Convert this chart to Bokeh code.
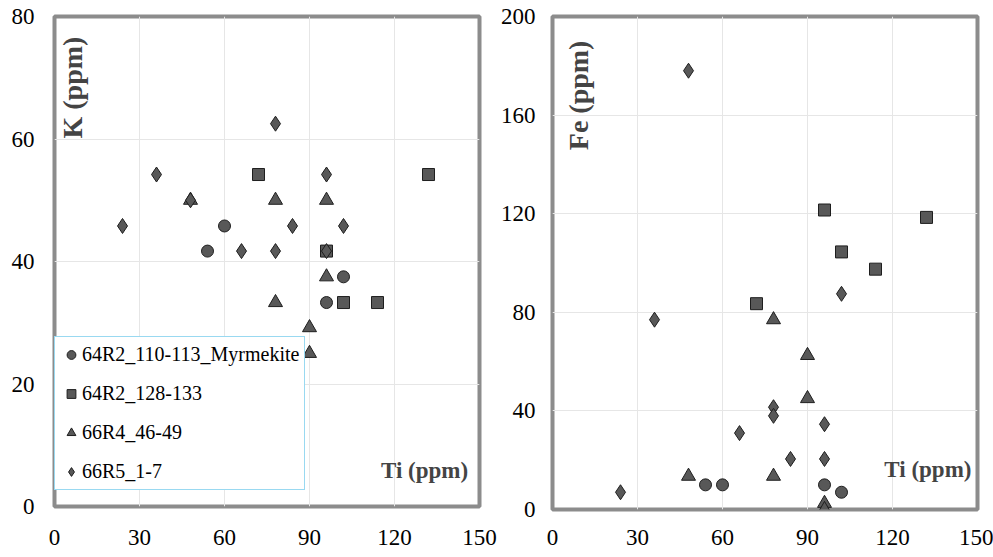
import math
from bokeh.plotting import figure
from bokeh.layouts import row
from bokeh.models import Range1d, Label, Legend, LegendItem, FixedTicker
from bokeh.embed import file_html
from bokeh.resources import INLINE

# ---------------- data ----------------
series_names = ["64R2_110-113_Myrmekite", "64R2_128-133", "66R4_46-49", "66R5_1-7"]

myr_ti = [54, 60, 96, 102]
myr_k = [41.7, 45.8, 33.3, 37.5]
myr_fe = [10, 10, 10, 7]

s128_ti = [72, 96, 102, 114, 132]
s128_k = [54.2, 41.7, 33.3, 33.3, 54.2]
s128_fe = [83.5, 121.5, 104.5, 97.5, 118.5]

s66r4_ti = [48, 78, 78, 90, 90, 96, 96]
s66r4_k = [50, 50, 33.3, 29.2, 25, 50, 37.5]
s66r4_fe = [13.5, 77, 13.5, 62.5, 45, 2.5, 0]

s66r5_ti = [24, 36, 48, 66, 78, 78, 84, 96, 96, 102]
s66r5_k = [45.8, 54.2, 50, 41.7, 62.5, 41.7, 45.8, 54.2, 41.7, 45.8]
s66r5_fe = [7, 77, 178, 31, 41.5, 38, 20.5, 34.6, 20.5, 87.5]

x_ticks = [0, 30, 60, 90, 120, 150]
k_ticks = [0, 20, 40, 60, 80]
fe_ticks = [0, 40, 80, 120, 160, 200]

FONT = "Liberation Serif"
FILL = "#585858"
EDGE = "#1e1e1e"


def make_fig(y_max, y_ticks, border_left, border_right, frame_h, border_bottom, x_standoff, y_standoff):
    p = figure(frame_width=425, frame_height=frame_h,
               x_range=Range1d(0, 150), y_range=Range1d(0, y_max),
               output_backend="svg", toolbar_location=None,
               min_border_left=border_left, min_border_right=border_right,
               min_border_top=16, min_border_bottom=border_bottom)
    p.xaxis.ticker = FixedTicker(ticks=x_ticks)
    p.yaxis.ticker = FixedTicker(ticks=y_ticks)
    for ax in (p.xaxis[0], p.yaxis[0]):
        ax.axis_line_color = None
        ax.major_tick_line_color = None
        ax.minor_tick_line_color = None
        ax.major_tick_out = 0
        ax.major_tick_in = 0
        ax.major_label_text_font = FONT
        ax.major_label_text_font_size = "23px"
        ax.major_label_text_color = "black"
    p.xaxis.major_label_standoff = x_standoff
    p.yaxis.major_label_standoff = y_standoff
    p.xgrid.grid_line_color = "#e6e6e6"
    p.ygrid.grid_line_color = "#e6e6e6"
    p.outline_line_color = "#8c8c8c"
    p.outline_line_width = 4
    p.background_fill_color = "white"
    p.border_fill_color = "white"
    return p


def add_series(p, ys):
    r1 = p.scatter(myr_ti, ys[0], marker="circle", size=12, fill_color=FILL, line_color=EDGE)
    r2 = p.scatter(s128_ti, ys[1], marker="square", size=12, fill_color=FILL, line_color=EDGE)
    r3 = p.scatter(s66r4_ti, ys[2], marker="triangle", size=14, fill_color=FILL, line_color=EDGE)
    r4 = p.scatter(s66r5_ti, ys[3], marker="diamond", size=15, fill_color=FILL, line_color=EDGE)
    return [r1, r2, r3, r4]


# ---------------- left: K vs Ti ----------------
p1 = make_fig(80, k_ticks, 54, 18, 490, 49, 23, 20)
rs = add_series(p1, [myr_k, s128_k, s66r4_k, s66r5_k])
legend = Legend(items=[LegendItem(label=n, renderers=[r]) for n, r in zip(series_names, rs)],
                location=(0, 16), orientation="vertical",
                label_text_font=FONT, label_text_font_size="20px", label_text_color="black",
                glyph_width=22, glyph_height=25, label_height=25, label_standoff=0,
                spacing=14, padding=5, margin=0,
                border_line_color="#33b4e4", border_line_width=1.5,
                background_fill_color="white", background_fill_alpha=1)
p1.add_layout(legend, "center")
p1.add_layout(Label(x=6.5, y=68.4, text="K (ppm)", angle=math.pi / 2,
                    text_font=FONT, text_font_style="bold", text_font_size="28px",
                    text_align="center", text_baseline="middle"))
p1.add_layout(Label(x=130.6, y=5.9, text="Ti (ppm)",
                    text_font=FONT, text_font_style="bold", text_font_size="23px",
                    text_align="center", text_baseline="middle"))

# ---------------- right: Fe vs Ti ----------------
p2 = make_fig(200, fe_ticks, 55, 16, 493, 46, 20, 17)
add_series(p2, [myr_fe, s128_fe, s66r4_fe, s66r5_fe])
p2.add_layout(Label(x=9.2, y=168, text="Fe (ppm)", angle=math.pi / 2,
                    text_font=FONT, text_font_style="bold", text_font_size="28px",
                    text_align="center", text_baseline="middle"))
p2.add_layout(Label(x=132.5, y=16.2, text="Ti (ppm)",
                    text_font=FONT, text_font_style="bold", text_font_size="23px",
                    text_align="center", text_baseline="middle"))

layout = row(p1, p2)
open("out.html", "w").write(file_html(layout, INLINE))
